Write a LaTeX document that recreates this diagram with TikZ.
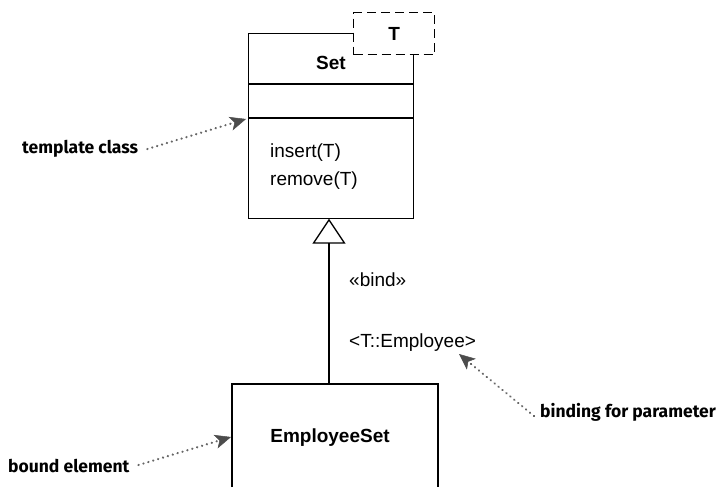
\documentclass[tikz,border=0pt]{standalone}
\usepackage{fontspec}
\setmainfont{Liberation Sans}
\newfontfamily\annfont{Fira Sans}
\usetikzlibrary{arrows.meta}
\tikzset{
  umlline/.style={line width=1.3pt, black},
  note/.style={font=\annfont\bfseries\fontsize{17.5}{20}\selectfont, inner sep=0pt},
  pointer/.style={draw=black!60, line width=2.4pt, dash pattern=on 0.1pt off 5pt, line cap=round,
    -{Stealth[length=16pt,width=14pt,color=black!70,line width=0.5pt,inset=4pt]}},
  lbl/.style={font=\fontsize{19}{22}\selectfont, inner sep=0pt}
}
\begin{document}
\begin{tikzpicture}[x=1pt,y=-1pt]
\useasboundingbox (0,0) rectangle (717,489);
% template class box
\node[draw, umlline, minimum width=165pt, minimum height=185pt, anchor=north west, inner sep=0pt] (set) at (248,33) {};
\draw[umlline] (248,84) -- (413,84);
\draw[umlline] (248,118) -- (413,118);
\node[lbl, font=\bfseries\fontsize{19}{22}\selectfont] (setname) at (331,63) {Set};
\node[lbl, anchor=west] (op1) at (270,153) {insert(T)};
\node[lbl, anchor=west] (op2) at (270,181) {remove(T)};
% parameter box
\node[draw, line width=1.1pt, dash pattern=on 9pt off 5pt, fill=white, minimum width=81pt, minimum height=42pt, anchor=north west, inner sep=0pt] (param) at (353,12) {};
\node[lbl, font=\bfseries\fontsize{19}{22}\selectfont] (pname) at (param.center) {T};
% bound element box
\node[minimum width=206pt, minimum height=110pt, anchor=north west, inner sep=0pt] (es) at (232,384) {};
\draw[umlline] (232,487) -- (232,384) -- (438,384) -- (438,487);
\node[lbl, font=\bfseries\fontsize{19}{22}\selectfont] (esname) at (330,438) {EmployeeSet};
% bind realization
\coordinate (genbot) at (329,384);
\coordinate (gentop) at (329,218.7);
\draw[umlline, -{Triangle[open, length=25pt, width=33pt, line width=1.3pt]}] (genbot) -- (gentop);
\node[lbl, anchor=west] (bind) at (349,280) {«bind»};
\node[lbl, anchor=west] (binding) at (349,343) {<T::Employee>};
% annotations
\node[note, anchor=west] (n1) at (22,149) {template class};
\node[note, anchor=west] (n2) at (8,466) {bound element};
\node[note, anchor=west] (n3) at (540,412) {binding for parameter};
\coordinate (t1) at (246,119);
\coordinate (t2) at (231,437);
\coordinate (t3) at (459,354);
\draw[pointer] ([xshift=9pt]n1.east) -- (t1);
\draw[pointer] ([xshift=9pt,yshift=1pt]n2.east) -- (t2);
\draw[pointer] ([xshift=-6pt,yshift=-4pt]n3.west) -- (t3);
\end{tikzpicture}
\end{document}
